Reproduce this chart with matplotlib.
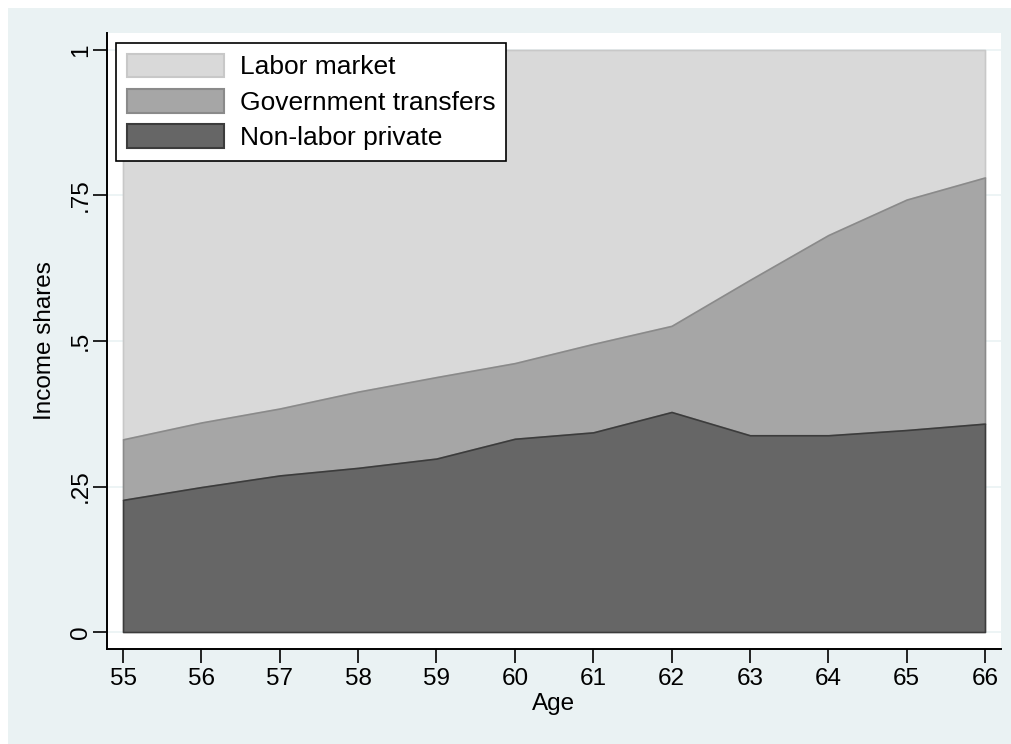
import numpy as np
import matplotlib
matplotlib.use("Agg")
import matplotlib.pyplot as plt
from matplotlib.patches import Rectangle, Patch

plt.rcParams['font.family'] = ['Liberation Sans', 'DejaVu Sans']

# shares by age
edad = [55, 56, 57, 58, 59, 60, 61, 62, 63, 64, 65, 66]
no_laboral = [0.227, 0.249, 0.269, 0.282, 0.298, 0.332, 0.343, 0.378, 0.338, 0.338, 0.347, 0.358]
transfer_tope = [0.331, 0.360, 0.384, 0.413, 0.438, 0.462, 0.495, 0.526, 0.605, 0.682, 0.743, 0.781]
total = [1.0] * len(edad)

yticks = [0, 0.25, 0.5, 0.75, 1]
yticklabels = ['0', '.25', '.5', '.75', '1']

fondo = '#EAF2F3'
c_lab = '#D9D9D9'
c_gob = '#A6A6A6'
c_priv = '#666666'

fig = plt.figure(figsize=(10.12, 7.44), dpi=100)
fig.patch.set_facecolor('white')
fig.patches.append(Rectangle((8 / 1012, 0), 1, 1 - 8 / 744, transform=fig.transFigure,
                             facecolor=fondo, edgecolor='none', zorder=-10))

ax = fig.add_axes([107 / 1012, 1 - 649 / 744, (1001 - 107) / 1012, (649 - 33) / 744])
ax.set_facecolor('white')

x = np.array(edad)
ax.fill_between(x, transfer_tope, total, facecolor=c_lab, edgecolor='#C8C8C8', linewidth=1.2, zorder=2)
ax.fill_between(x, no_laboral, transfer_tope, facecolor=c_gob, edgecolor='#8A8A8A', linewidth=1.2, zorder=3)
ax.fill_between(x, 0, no_laboral, facecolor=c_priv, edgecolor='#3C3C3C', linewidth=1.2, zorder=4)

ax.set_xlim(55 - 16 / 78.36, 66 + 16 / 78.36)
ax.set_ylim(-17 / 582, 1 + 17 / 582)

for yv in yticks:
    ax.axhline(yv, color=fondo, linewidth=1.2, zorder=1)

ax.set_xticks(edad)
ax.set_xticklabels([str(e) for e in edad], fontsize=17.5)
ax.set_yticks(yticks)
ax.set_yticklabels(yticklabels, fontsize=17.5, rotation=90, va='center')
ax.tick_params(axis='both', direction='out', length=10, width=1.2, color='black')
ax.tick_params(axis='x', pad=4)
ax.tick_params(axis='y', pad=1)

for s in ['top', 'right']:
    ax.spines[s].set_visible(False)
for s in ['left', 'bottom']:
    ax.spines[s].set_linewidth(1.4)

ax.set_xlabel('Age', fontsize=17.5, labelpad=2)
ax.set_ylabel('Income shares', fontsize=17.5, labelpad=10)

handles = [Patch(facecolor=c_lab, edgecolor='#C8C8C8', linewidth=1.5),
           Patch(facecolor=c_gob, edgecolor='#8A8A8A', linewidth=1.5),
           Patch(facecolor=c_priv, edgecolor='#3C3C3C', linewidth=1.5)]
leg = ax.legend(handles, ['Labor market', 'Government transfers', 'Non-labor private'],
                loc='upper left', bbox_to_anchor=(9 / 894, 1 - 10 / 616), fontsize=19,
                frameon=True, fancybox=False, edgecolor='black', framealpha=1,
                handlelength=3.7, handleheight=1.0, handletextpad=0.6,
                borderpad=0.4, labelspacing=0.36, borderaxespad=0)
leg.get_frame().set_linewidth(1.2)
leg.set_zorder(10)

plt.savefig('out.png', dpi=100)
